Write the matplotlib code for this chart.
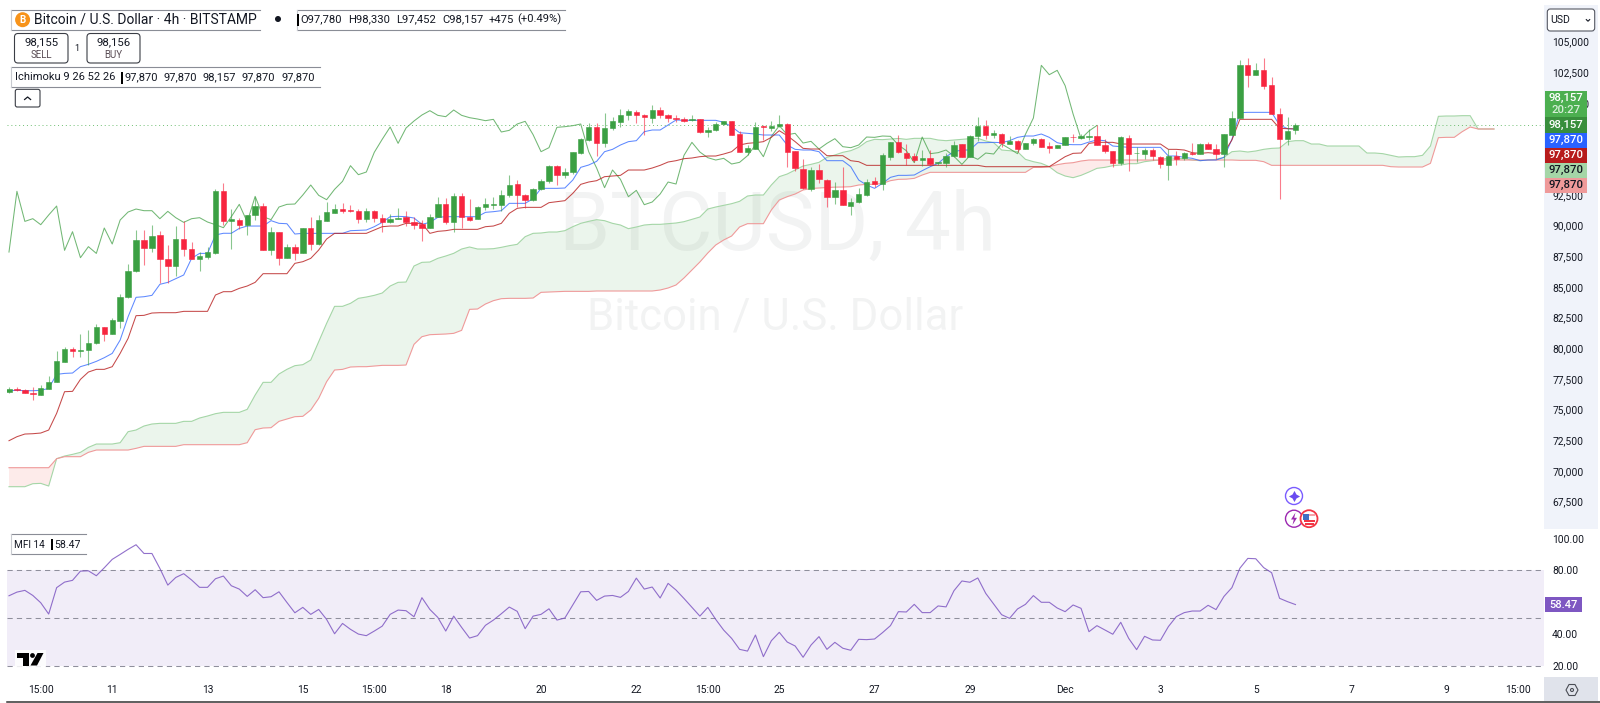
import matplotlib
matplotlib.use("Agg")
import matplotlib.pyplot as plt
from matplotlib.patches import Rectangle, FancyBboxPatch, Circle, Polygon
import numpy as np

plt.rcParams['font.family'] = ['Roboto', 'DejaVu Sans']

opens = [76430,76650,76600,76350,76210,76700,77270,78880,79910,79750,
79830,80400,81700,81190,82220,84200,86270,88790,88200,89200,
87270,86700,88900,88060,87300,87460,87790,92790,90340,90480,
90070,90860,91590,88010,89500,87350,88280,87760,89800,88495,
90396,91021,91347,91266,91211,90559,91157,90614,90260,90559,
90695,90288,90125,89826,90695,91728,90260,92380,90695,90532,
91510,91700,91700,92461,93385,92461,92108,92950,93602,94852,
94146,94363,95912,96972,98004,96700,97922,98466,99009,99281,
99009,98765,99417,98982,98765,98710,98602,98656,97624,97759,
98276,98493,97460,95993,96265,98113,97950,98113,98276,96048,
94635,93005,94526,93711,92353,92869,91619,91918,92516,93630,
93385,95613,96781,95912,95667,95368,95504,95069,95123,95694,
96645,95613,97270,98139,97406,97487,96645,96862,96265,96699,
97080,96482,96346,96564,97243,97134,97215,97297,96564,96101,
95123,97134,95884,95830,96156,95558,94960,95694,95477,95939,
95830,96645,96265,95830,97406,98764,103057,102296,102650,101427,
99063,97025,97780]
closes = [76650,76600,76380,76300,76790,77270,78930,79910,79800,79830,
80430,81700,81190,82270,84200,86270,88790,88200,89120,87300,
86700,88930,88090,87300,87490,87840,92790,90340,90560,90070,
90860,91590,87980,89500,87380,88280,87730,89800,88495,90451,
91103,91347,91211,91211,90559,91157,90641,90260,90559,90641,
90288,90070,89826,90722,91728,90288,92380,90722,90478,91510,
91728,91755,92488,93304,92461,92108,92950,93602,94879,94146,
94363,95966,97029,98031,96700,97950,98520,99009,99362,98982,
98873,99417,98982,98792,98683,98547,98656,97624,97759,98276,
98493,97406,96020,96347,98004,98058,98140,98276,96020,94689,
93086,94526,93765,92353,92869,91700,91918,92570,93548,93385,
95722,96781,95993,95531,95341,95477,95015,95151,95694,96564,
95613,97270,98139,97406,97515,96726,96862,96237,96699,97080,
96428,96346,96564,97215,97188,97297,97270,96564,96101,95123,
97215,95857,95939,96156,95640,94988,95694,95395,95911,95830,
96645,96265,95857,97433,98764,103057,102296,102650,101400,99090,
97080,97705,98157]
highs = [76870,76810,76650,76810,76980,77740,79770,80130,80130,81160,
81490,81950,81760,82440,84420,86865,89640,89640,90020,89530,
88410,89960,90370,88660,87870,88220,92950,93500,91320,90640,
90860,92350,91860,89910,89500,88500,88500,89800,90722,90858,
91945,91755,91809,91673,91374,91429,91266,90940,90940,91456,
91211,90668,90451,90940,92298,92244,92624,92624,92135,91592,
92217,92298,92896,94119,93711,92570,93059,93765,94961,94961,
94716,95966,97107,98384,98330,99199,98873,99471,99525,99417,
99091,99824,99634,99091,99009,98819,99036,98656,98058,98466,
98547,98547,97732,96564,98411,98167,98547,99036,98384,96048,
95396,94744,95015,93820,93575,94744,92217,93032,93765,93928,
95939,96781,97352,96645,95884,96156,96156,95205,95884,96862,
96645,97379,98819,98601,97786,97515,97297,96971,96754,97134,
97134,96808,96591,97243,97460,97460,97895,98221,97025,96101,
97297,97406,96373,96292,96292,95667,96210,96047,95993,96699,
96699,96808,96645,97460,99308,103492,103655,103220,103655,102133,
99552,98873,98330]
lows = [76380,76490,76320,75780,76190,76650,77250,78880,79310,79310,
78630,80340,80590,81190,81620,84066,86240,86810,87870,85290,
85290,85890,87520,87250,86320,87250,87680,90040,88120,89690,
89260,90450,87980,87630,86760,87330,87190,87760,88005,88440,
90396,90994,91048,91103,90179,90315,90315,89500,90233,90532,
89989,89744,88766,89799,90668,90125,89500,89826,90396,90505,
91266,91320,91211,92298,91483,91402,92027,92896,93494,93331,
93901,94200,95803,96917,95667,96428,97787,98058,98602,98384,
97379,98384,98738,98466,98466,98411,98547,97515,97243,97732,
98221,97379,95993,95749,96265,96972,97732,98004,94744,94445,
92950,92842,93494,91483,91755,91673,90831,91864,92407,93168,
92896,95341,95885,94934,95205,94852,94933,94933,94743,95613,
95558,95558,96917,97025,97134,96373,96618,96020,96210,96591,
96373,95884,96319,96536,96808,97080,96971,96536,95884,94743,
94933,94471,95205,95449,95341,94689,93711,94933,95341,95776,
95803,96210,95449,94743,97351,98737,101264,102242,101101,99090,
92189,96536,97452]
tenkan = [76540,76570,76540,76540,76570,76730,77870,77950,77980,78500,
78690,78930,79230,79580,80670,82570,84150,84200,84310,85210,
85370,85670,85970,87330,87730,87730,89230,89370,89370,89770,
89960,89960,89960,90400,90180,90150,89310,89364,89364,89364,
89364,89364,89364,89581,89608,89635,89907,90260,90722,90750,
90722,90614,90097,90260,90668,90722,90722,90722,90722,90722,
91076,91130,91211,91809,91809,91809,92190,93032,93032,93032,
93059,93711,94744,94934,95233,96020,96210,96564,96836,96917,
97651,97787,97787,98194,98602,98575,98575,98575,98575,98575,
98411,98058,97569,97515,97460,97379,97379,97379,96564,96210,
96156,96156,96020,95287,95287,95287,94798,93711,93304,93032,
93440,93928,94091,94091,94118,94471,94797,95069,95613,96020,
96156,96156,96754,96754,96781,96754,96917,97188,97297,97297,
97460,97188,96754,96618,96591,96591,96808,96971,96917,96482,
96428,96373,96373,96373,96373,96373,95667,95667,95558,95477,
95287,95341,95341,95558,97025,99199,99226,99226,99226,99226,
98194,97895,97870]
kijun = [72465,72791,73008,73035,73090,73334,74693,76460,76486,77464,
78062,78280,78280,78497,79583,80806,82654,82681,82871,82898,
82898,82898,83007,83007,83007,83007,84338,84610,84610,84881,
85072,85371,86077,86077,86077,86077,86919,87055,87326,88005,
88902,89364,89364,89364,89364,89364,89635,89907,89961,89961,
90179,90179,90179,89364,89527,89581,89690,89690,89690,89690,
89907,89961,90179,90994,91402,91483,91483,91483,91864,91945,
92027,92624,93358,93548,93657,93983,94037,94091,94526,94526,
94526,94689,94906,95178,95287,95450,95504,95613,95667,95667,
95830,96020,96564,96700,96754,96836,97189,97732,97325,96836,
96292,96238,96238,95694,95694,95694,95287,95205,94906,94906,
94906,94906,94906,94906,94906,94906,94906,94906,94906,94906,
94906,94906,94906,94797,94797,94797,94797,94797,94797,94797,
94797,94797,95205,95613,95884,95911,96699,96781,96781,96781,
96645,96645,96645,96645,96645,96645,96210,96210,96156,95939,
95884,95939,95884,95939,96971,98656,98656,98656,98656,98656,
97922,97895,97870]
span_a = [68717,68717,68717,68961,68988,68771,70999,71216,71352,71516,
71922,72194,72194,72194,72303,73200,73336,73662,73825,73879,
73879,73879,74042,74042,74314,74477,74667,74776,74776,74776,
75020,76188,77221,77221,77900,78281,78580,78661,79040,80535,
82029,83415,83415,83659,84067,84175,84311,84501,85072,85371,
85398,86702,87001,87028,87327,87517,87735,88088,88251,88088,
88088,88115,88224,88360,88468,89093,89365,89392,89474,89474,
89582,89908,90180,90343,90478,90397,90179,90043,89745,89881,
90043,90098,90098,90152,90207,90315,90505,90695,91348,91511,
91646,91782,91973,92407,92489,92489,93304,93983,94200,94527,
94853,94988,95152,95559,95749,95967,96102,96374,96836,97026,
97000,97050,97100,97025,97107,97107,97107,96971,96917,96971,
97025,97080,97107,96890,96754,96156,96101,96020,95395,95205,
95069,94797,94308,94037,93901,94091,94363,94662,94743,94879,
94933,95042,95042,95205,95287,95341,95531,95477,95449,95341,
95287,95341,95395,95558,96020,96075,95993,96075,96211,96292,
96320,96836,96917,96917,96645,96645,96483,96483,96483,96483,
96483,95912,95912,95858,95722,95586,95613,95613,95722,96483,
98901,98928,98928,98955,98955,97870,97870,97870]
span_b = [70265,70265,70265,70265,70265,70265,70999,71162,71162,71162,
71516,71705,71705,71705,71705,71705,71841,72004,72004,72004,
72004,72004,72140,72140,72140,72140,72140,72140,72140,72140,
72303,73363,73499,73526,74042,74232,74422,74450,74965,75916,
77274,78225,78279,78470,78497,78497,78551,78605,78605,78605,
78633,80317,80942,81105,81132,81160,81214,81459,83170,83197,
83605,83877,84040,84067,84067,84067,84094,84556,84583,84610,
84637,84637,84637,84637,84666,84666,84666,84666,84666,84666,
84666,84666,84747,84910,85156,85725,86378,87029,87763,88415,
88823,89147,89881,90152,90152,90152,91266,92081,92353,92571,
92897,93020,93060,93100,93130,93140,93167,93303,93358,93358,
93439,93657,93765,93780,93846,94118,94336,94336,94336,94336,
94336,94336,94336,94336,94336,94336,94336,94336,94336,94743,
94743,94797,94960,95069,95123,95259,95341,95341,95341,95341,
95341,95341,95341,95341,95341,95341,95341,95341,95341,95341,
95341,95341,95341,95341,95341,95314,95314,95314,95206,94907,
94907,94907,94907,94907,94907,94907,94907,94907,94907,94907,
94907,94907,94907,94907,94798,94771,94771,94771,94771,95070,
97162,97189,97189,97651,98031,97870,97870,97870]
mfi = [64.0,66.3,67.4,64.2,59.6,52.5,69.1,72.6,73.7,79.5,
79.7,76.6,81.6,86.9,90.0,93.2,96.1,90.6,90.6,81.2,
70.7,75.5,77.9,73.9,69.3,69.3,74.7,76.4,70.3,68.2,
63.6,67.8,62.8,63.4,66.5,59.8,53.3,56.7,52.3,55.4,
49.1,40.1,46.6,42.9,39.9,38.9,41.8,44.9,52.3,55.0,
54.6,50.8,62.8,55.4,50.4,41.8,51.2,44.1,37.4,38.9,
45.4,48.7,52.7,56.9,54.2,43.3,51.2,52.3,55.8,48.7,
50.0,58.2,66.5,66.7,61.1,63.8,64.2,63.0,66.7,75.1,
68.2,69.5,62.6,71.8,67.6,62.3,56.7,51.2,56.7,49.1,
42.4,37.2,30.3,29.2,39.3,25.7,35.7,41.0,34.9,32.4,
25.3,33.0,38.3,30.3,34.7,31.0,29.7,36.6,36.4,36.8,
40.8,45.2,54.0,53.8,58.6,53.4,53.4,57.6,57.0,67.2,
73.3,72.5,75.2,65.5,58.8,52.1,49.8,55.7,58.6,64.1,
59.9,59.9,56.3,54.0,58.2,56.1,41.4,45.2,42.5,39.8,
47.3,37.2,30.1,38.5,36.2,36.0,44.6,50.9,53.4,54.4,
54.4,58.0,55.3,63.6,69.1,81.3,87.5,87.3,81.7,78.5,
62.4,60.3,58.47]

price_ticks = [67500,70000,72500,75000,77500,80000,82500,85000,87500,90000,92500,100000,102500,105000]
mfi_ticks = [20,40,60,80,100]
band_levels = [20,50,80]
x_tick_pos = [4,13,25,37,46,55,67,79,88,97,109,121,133,145,157,169,181,190]
x_tick_labels = ['15:00','11','13','15','15:00','18','20','22','15:00','25','27','29','Dec','3','5','7','9','15:00']

GREEN, RED = '#3ba043', '#f7253f'
TXT = '#131722'
W, H = 1600, 703
fig = plt.figure(figsize=(W/100, H/100), dpi=100, facecolor='white')

def rect(x0, y0, x1, y1):
    return [x0/W, 1-y1/H, (x1-x0)/W, (y1-y0)/H]

# grey price scales
fig.add_artist(Rectangle((1544/W, 1-529/H), 54/W, 524/H, transform=fig.transFigure, color='#f0f3fa', lw=0, zorder=-5))
fig.add_artist(Rectangle((1544/W, 1-701/H), 54/W, 24/H, transform=fig.transFigure, color='#e0e3eb', lw=0, zorder=-5))

ax = fig.add_axes(rect(7, 0, 1544, 529))
ax2 = fig.add_axes(rect(7, 529, 1544, 677))
xlim = (-0.25, 193.3)
for a in (ax, ax2):
    a.set_xlim(*xlim)
    for s in a.spines.values():
        s.set_visible(False)
    a.yaxis.tick_right()
    a.patch.set_alpha(0)
ax.set_ylim(65269, 108382)
ax2.set_ylim(12.9, 106)

n = len(closes)
xs = np.arange(n)
o, h, l, c = map(np.array, (opens, highs, lows, closes))
up = c >= o
cols = np.where(up, GREEN, RED)

ax.text(0.501, 0.57, 'BTCUSD, 4h', transform=ax.transAxes, ha='center', va='center',
        fontsize=59, color=TXT, alpha=0.05, zorder=0)
ax.text(0.5, 0.40, 'Bitcoin / U.S. Dollar', transform=ax.transAxes, ha='center', va='center',
        fontsize=31.5, color=TXT, alpha=0.05, zorder=0)

xc = np.arange(len(span_a))
sa, sb = np.array(span_a, float), np.array(span_b, float)
ax.fill_between(xc, sa, sb, where=sa >= sb, interpolate=True, color='#43a047', alpha=0.1, lw=0, zorder=1)
ax.fill_between(xc, sa, sb, where=sa <= sb, interpolate=True, color='#f44336', alpha=0.1, lw=0, zorder=1)
ax.plot(xc, sa, color='#a5d6a7', lw=0.8, zorder=2)
ax.plot(xc, sb, color='#ef9a9a', lw=0.8, zorder=2)
ax.plot(xs[:n-25], c[25:], color='#43a047', lw=0.75, alpha=0.75, zorder=3)
ax.plot(xs, tenkan, color='#2962ff', lw=0.75, alpha=0.75, zorder=3)
ax.plot(xs, kijun, color='#b71c1c', lw=0.75, alpha=0.8, zorder=3)
ax.axhline(closes[-1], color='#4caf50', lw=0.7, ls=(0, (1, 3)), alpha=0.8, zorder=3)

ax.vlines(xs, l, h, colors=cols, lw=0.8, alpha=0.6, zorder=4)
ax.bar(xs, np.abs(c-o), bottom=np.minimum(o, c), width=0.68, color=cols, edgecolor=cols, lw=0.4, zorder=5)

ax.set_yticks(price_ticks)
ax.set_yticklabels([f'{v:,}' for v in price_ticks])
ax.set_xticks([])
ax.tick_params(axis='y', length=0, pad=5.8, labelsize=7.4, labelcolor=TXT)

ax2.axhspan(20, 80, color='#7e57c2', alpha=0.1, lw=0, zorder=1)
for lv in band_levels:
    ax2.axhline(lv, color='#8f8f9c', lw=0.75, ls=(0, (5, 4)), zorder=2)
ax2.plot(xs, mfi, color='#7e57c2', lw=0.8, alpha=0.85, zorder=3)
ax2.set_yticks(mfi_ticks)
ax2.set_yticklabels([f'{v:.2f}' for v in mfi_ticks])
ax2.set_xticks(x_tick_pos)
ax2.set_xticklabels(x_tick_labels)
ax2.tick_params(axis='y', length=0, pad=5.8, labelsize=7.4, labelcolor=TXT)
ax2.tick_params(axis='x', length=0, pad=5.5, labelsize=7.4, labelcolor=TXT)

# overlay in pixel coordinates for the interface furniture
ov = fig.add_axes([0, 0, 1, 1], zorder=10)
ov.set_xlim(0, W); ov.set_ylim(H, 0); ov.axis('off')

def legend_box(x0, y0, x1, y1):
    ov.add_patch(Rectangle((x0, y0), x1-x0, y1-y0, fc='white', ec='none', zorder=1))
    ov.plot([x0, x1], [y0, y0], color='#8a8d96', lw=0.8, zorder=2)
    ov.plot([x0, x1], [y1, y1], color='#8a8d96', lw=0.8, zorder=2)
    ov.plot([x0, x0], [y0, y1], color='#c8cad0', lw=0.8, zorder=2)

legend_box(10.5, 9.5, 260, 29.5)
ov.add_patch(Circle((22.6, 19.7), 7.5, fc='#f7931a', ec='none', zorder=3))
ov.text(22.6, 19.9, 'B', color='white', fontsize=7, fontweight='bold', ha='center', va='center', zorder=4)
ov.text(34.4, 19.7, 'Bitcoin / U.S. Dollar · 4h · BITSTAMP', fontsize=10, color=TXT, va='center', zorder=4)
ov.add_patch(Circle((278, 19), 3, fc='#131722', ec='none', zorder=3))

legend_box(296.5, 9.5, 564.5, 29.5)
ov.add_patch(Rectangle((297, 14), 1.8, 12, fc='black', ec='none', zorder=3))
for tx, s in [(300.5, 'O97,780'), (348, 'H98,330'), (396, 'L97,452'), (442, 'C98,157'), (489, '+475'), (517, '(+0.49%)')]:
    ov.text(tx, 19.7, s, fontsize=8.1, color=TXT, va='center', zorder=4)

for x0, x1, p, lab in [(14.5, 68, '98,155', 'SELL'), (87, 140, '98,156', 'BUY')]:
    ov.add_patch(FancyBboxPatch((x0+2, 35.5), x1-x0-4, 25.5, boxstyle='round,pad=2,rounding_size=3.5',
                                fc='white', ec='#3a3d45', lw=0.8, zorder=2))
    ov.text((x0+x1)/2, 42.5, p, fontsize=8.2, color=TXT, ha='center', va='center', zorder=4)
    ov.text((x0+x1)/2, 55.3, lab, fontsize=7.0, color='#5a4d55', ha='center', va='center', zorder=4)
ov.text(77, 48.7, '1', fontsize=6.5, color=TXT, ha='center', va='center', zorder=4)

legend_box(10.5, 66.8, 320, 87.3)
ov.text(15.3, 77.5, 'Ichimoku 9 26 52 26', fontsize=8.0, color=TXT, va='center', zorder=4)
ov.add_patch(Rectangle((121, 71.5), 2, 12, fc='black', ec='none', zorder=3))
for tx, s in [(124.5, '97,870'), (163, '97,870'), (202.5, '98,157'), (241.5, '97,870'), (281, '97,870')]:
    ov.text(tx, 77.5, s, fontsize=8.0, color=TXT, va='center', zorder=4)

ov.add_patch(FancyBboxPatch((17.3, 91.3), 20.7, 13.7, boxstyle='round,pad=2,rounding_size=2',
                            fc='white', ec='#3a3d45', lw=0.8, zorder=2))
ov.plot([24.6, 27.6, 30.6], [99.5, 97, 99.5], color='#131722', lw=0.9, zorder=4)

# USD selector
ov.add_patch(FancyBboxPatch((1549.3, 11), 43.4, 18, boxstyle='round,pad=2,rounding_size=3',
                            fc='white', ec='#555862', lw=0.8, zorder=2))
ov.text(1560, 20, 'USD', fontsize=7.6, color=TXT, ha='center', va='center', zorder=4)
ov.plot([1586.3, 1588, 1589.7], [19.6, 21.2, 19.6], color='#131722', lw=0.8, zorder=4)

# last-value labels
labels = [(91, 117.3, '#4caf50'), (117.3, 133.3, '#388e3c'), (133.3, 148, '#2962ff'),
          (148, 163, '#b71c1c'), (163, 178, '#a5d6a7'), (178, 193, '#ef9a9a')]
for y0, y1, col in labels:
    ov.add_patch(Rectangle((1545, y0), 42.3, y1-y0, fc=col, ec='none', zorder=3))
lab_txt = [(98, '98,157', 'white'), (110, '20:27', '#d6eed8'), (125, '98,157', 'white'), (140, '97,870', 'white'),
           (155, '97,870', 'white'), (170, '97,870', TXT), (185, '97,870', TXT)]
for y, s, col in lab_txt:
    ov.text(1566.3, y, s, fontsize=8.2, fontweight='medium', color=col, ha='center', va='center', zorder=4)

ov.add_patch(Rectangle((1545.4, 597.3), 36.6, 14.4, fc='#7e57c2', ec='none', zorder=3))
ov.text(1563.7, 604.5, '58.47', fontsize=8.0, fontweight='medium', color='white', ha='center', va='center', zorder=4)

# MFI legend
legend_box(11, 534, 85.7, 554.3)
ov.text(14.5, 544.5, 'MFI 14', fontsize=7.2, color=TXT, va='center', zorder=4)
ov.add_patch(Rectangle((51, 539), 2, 11, fc='black', ec='none', zorder=3))
ov.text(54.5, 544.5, '58.47', fontsize=7.6, color=TXT, va='center', zorder=4)

# TradingView logo
ov.add_patch(Rectangle((15, 650), 31, 17, fc='white', ec='none', zorder=2, alpha=0.85))
ov.add_patch(Polygon([(17, 653), (29, 653), (29, 665.5), (23, 665.5), (23, 658), (17, 658)], fc='black', ec='none', zorder=3))
ov.add_patch(Circle((32.5, 655.5), 2.4, fc='black', ec='none', zorder=3))
ov.add_patch(Polygon([(37.5, 653), (43.5, 653), (37, 665.5), (30.5, 665.5)], fc='black', ec='none', zorder=3))

# event icons
ov.add_patch(Circle((1294, 496), 8.5, fc='white', ec='#7a5cff', lw=1.0, zorder=3))
ov.plot([1294], [496], marker=(4, 1, 0), ms=8, color='#6a4cf0', mew=0, zorder=4)
ov.add_patch(Circle((1294, 518.7), 8.5, fc='white', ec='#9c27b0', lw=1.0, zorder=3))
ov.add_patch(Polygon([(1295.5, 512.5), (1291, 519.5), (1293.8, 519.5), (1292.5, 525), (1297, 517.8), (1294.2, 517.8)],
                     fc='#9c27b0', ec='none', zorder=4))
ov.add_patch(Circle((1309, 518.7), 8.5, fc='white', ec='#f23645', lw=1.3, zorder=5))
ov.add_patch(Rectangle((1303.5, 520), 11, 1.6, fc='#f23645', ec='none', zorder=6))
ov.add_patch(Rectangle((1304.5, 523), 9, 1.5, fc='#f23645', ec='none', zorder=6))
ov.add_patch(Rectangle((1303.5, 513.5), 11, 2, fc='#f7a1a8', ec='none', zorder=6))
ov.add_patch(Rectangle((1303, 513.5), 6, 6, fc='#3f6fc4', ec='none', zorder=7))

# settings icon and bottom border
ov.add_patch(Polygon([(1566, 690), (1569, 684.5), (1575, 684.5), (1578, 690), (1575, 695.5), (1569, 695.5)],
                     fc='none', ec='#4a4d55', lw=0.8, zorder=4))
ov.add_patch(Circle((1572, 690), 1.5, fc='none', ec='#4a4d55', lw=0.8, zorder=4))
ov.plot([7, W], [702.3, 702.3], color='#333333', lw=1.1, zorder=4)

fig.savefig('out.png', dpi=100)
